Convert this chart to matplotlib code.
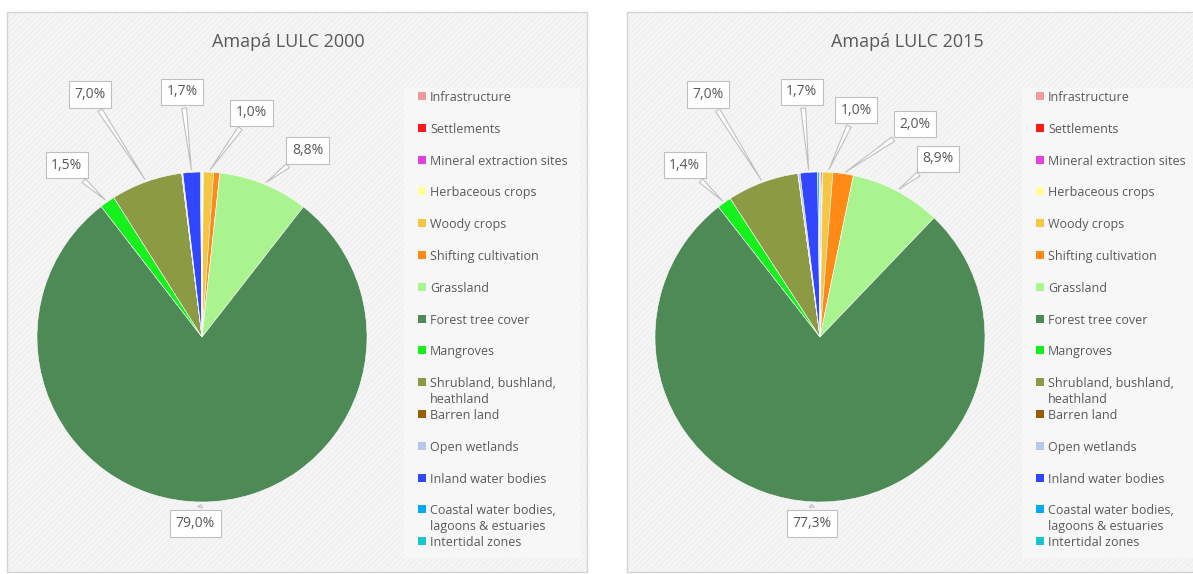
import numpy as np
import matplotlib.pyplot as plt
from matplotlib.patches import Rectangle

plt.rcParams['font.family'] = ['Open Sans', 'DejaVu Sans']
plt.rcParams['hatch.linewidth'] = 0.6

# ---- data ----
categories = ['Infrastructure', 'Settlements', 'Mineral extraction sites',
              'Herbaceous crops', 'Woody crops', 'Shifting cultivation',
              'Grassland', 'Forest tree cover', 'Mangroves',
              'Shrubland, bushland,\nheathland', 'Barren land', 'Open wetlands',
              'Inland water bodies', 'Coastal water bodies,\nlagoons & estuaries',
              'Intertidal zones']
colors = ['#F4999B', '#FF1A1A', '#E043DA', '#FFFF9E', '#F5C643', '#FF8A16',
          '#A9F48E', '#4E8A55', '#16F01C', '#8C9A44', '#9A5C06', '#B7C8EA',
          '#3147FF', '#08A8EE', '#1AC6CC']
lulc_2000 = [0.03, 0.06, 0.01, 0.03, 1.0, 0.6, 8.8, 79.0, 1.5, 7.0, 0.02, 0.1, 1.7, 0.1, 0.05]
lulc_2015 = [0.05, 0.15, 0.02, 0.03, 1.0, 2.0, 8.9, 77.3, 1.4, 7.0, 0.02, 0.2, 1.7, 0.15, 0.08]

# label box positions (pie radius units) for slices >= 1 %
lab_2000 = {4: (0.30, 1.36), 6: (0.64, 1.13), 7: (-0.04, -1.13), 8: (-0.82, 1.04),
            9: (-0.68, 1.47), 12: (-0.12, 1.485)}
lab_2015 = {4: (0.22, 1.375), 5: (0.575, 1.29), 6: (0.715, 1.08), 7: (-0.05, -1.13),
            8: (-0.82, 1.04), 9: (-0.68, 1.47), 12: (-0.11, 1.485)}

W, H = 1193, 574
fig = plt.figure(figsize=(W / 100, H / 100), dpi=100)
fig.patch.set_facecolor('white')
txt_col = '#595959'


def fx(px):
    return px / W


def fy(py):
    return 1 - py / H


def panel(x0, x1, y0, y1):
    fig.patches.append(Rectangle((fx(x0), fy(y1)), fx(x1 - x0), (y1 - y0) / H,
                                 transform=fig.transFigure, facecolor='#F1F1F1',
                                 edgecolor='#FBFBFB', hatch='//////', lw=0, zorder=-3))
    fig.patches.append(Rectangle((fx(x0), fy(y1)), fx(x1 - x0), (y1 - y0) / H,
                                 transform=fig.transFigure, facecolor='none',
                                 edgecolor='#D4D4D4', lw=1.0, zorder=-3))


def draw_pie(vals, labpos, box, cx, cy, R, title, tx, leg_x0, leg_x1):
    x0, x1, y0, y1 = box
    panel(x0, x1, y0, y1)
    ax = fig.add_axes([fx(x0), fy(y1), fx(x1 - x0), (y1 - y0) / H])
    wedges, _ = ax.pie(vals, colors=colors, startangle=90, counterclock=False,
                       wedgeprops=dict(edgecolor='white', linewidth=0.4))
    ax.set_aspect('auto')
    ax.set_xlim((x0 - cx) / R, (x1 - cx) / R)
    ax.set_ylim((cy - y1) / R, (cy - y0) / R)
    ax.axis('off')
    total = sum(vals)
    for i, w in enumerate(wedges):
        if i not in labpos:
            continue
        pct = vals[i] / total * 100
        mid = np.deg2rad((w.theta1 + w.theta2) / 2)
        ax.annotate(f'{pct:.1f}'.replace('.', ',') + '%',
                    xy=(np.cos(mid), np.sin(mid)), xytext=labpos[i],
                    ha='center', va='center', fontsize=10, color=txt_col,
                    bbox=dict(boxstyle='square,pad=0.4', fc='white', ec='#BFBFBF', lw=0.8),
                    arrowprops=dict(arrowstyle='wedge,tail_width=0.35,shrink_factor=0.5',
                                    fc='white', ec='#BFBFBF', lw=0.8))
    fig.text(fx(tx), fy(42), title, ha='center', va='center', fontsize=13, color=txt_col)

    # legend
    fig.patches.append(Rectangle((fx(leg_x0), fy(558)), fx(leg_x1 - leg_x0), 470 / H,
                                 transform=fig.transFigure, facecolor='#F7F7F7',
                                 edgecolor='none', zorder=-2))
    for i, (name, c) in enumerate(zip(categories, colors)):
        yc = 96 + i * 31.8
        fig.patches.append(Rectangle((fx(leg_x0 + 14), fy(yc + 4)), fx(8), 8 / H,
                                     transform=fig.transFigure, facecolor=c,
                                     edgecolor='none', zorder=2))
        fig.text(fx(leg_x0 + 26), fy(yc - 5), name, ha='left', va='top', fontsize=9,
                 color=txt_col, linespacing=1.3, zorder=3)


draw_pie(lulc_2000, lab_2000, (7, 587, 12, 572), 202, 337, 165,
         'Amapá LULC 2000', 288, 404, 580)
draw_pie(lulc_2015, lab_2015, (627, 1200, 12, 572), 820, 337, 165,
         'Amapá LULC 2015', 907, 1022, 1200)

fig.savefig('out.png', dpi=100)
